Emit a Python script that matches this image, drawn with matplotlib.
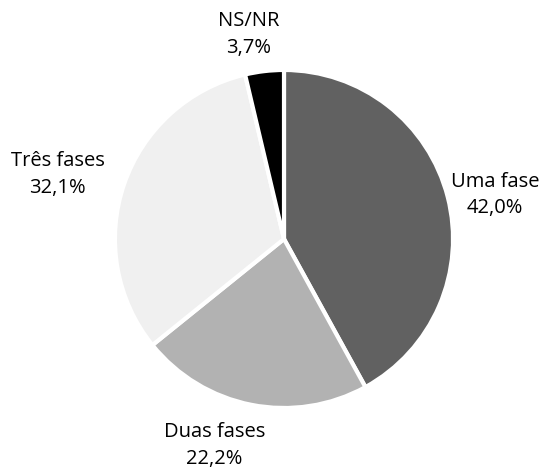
import matplotlib
matplotlib.use('Agg')
import matplotlib.pyplot as plt

labels = ['Uma fase', 'Duas fases', 'Três fases', 'NS/NR']
values = [42.0, 22.2, 32.1, 3.7]
colors = ['#616161', '#b2b2b2', '#f0f0f0', '#000000']
# label centres, in units of the pie radius
label_pos = [(1.25, 0.26), (-0.41, -1.22), (-1.34, 0.38), (-0.21, 1.21)]

fig = plt.figure(figsize=(5.57, 4.68), dpi=100)
ax = fig.add_axes([0, 0, 1, 1])

texts = [f'{l}\n{v:.1f}%'.replace('.', ',') for l, v in zip(labels, values)]
wedges, txt = ax.pie(values, labels=texts, colors=colors, startangle=90,
                     counterclock=False,
                     wedgeprops=dict(edgecolor='white', linewidth=3),
                     textprops=dict(fontsize=14.5, family='Open Sans'))
for t, p in zip(txt, label_pos):
    t.set_position(p)
    t.set_ha('center')
    t.set_va('center')
    t.set_multialignment('center')
    t.set_linespacing(1.45)

ax.set_xlim(-1.68, 1.615)
ax.set_ylim(-1.355, 1.414)
ax.set_aspect('auto')
ax.axis('off')

fig.savefig('out.png', dpi=100)
